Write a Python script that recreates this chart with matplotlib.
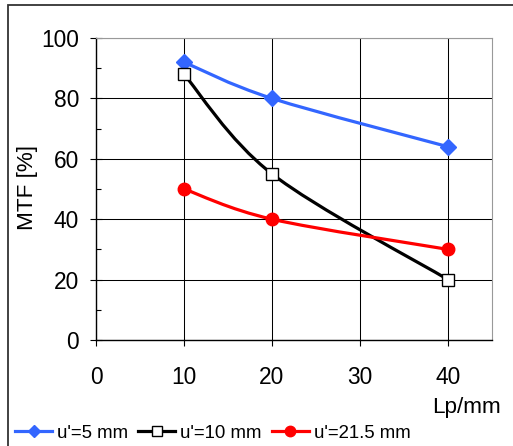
import numpy as np
import matplotlib
matplotlib.use('Agg')
import matplotlib.pyplot as plt
from matplotlib.path import Path
from matplotlib.patches import PathPatch, Rectangle
from matplotlib.lines import Line2D
from matplotlib.ticker import MultipleLocator

plt.rcParams['font.family'] = ['Liberation Sans', 'DejaVu Sans']

# data
lp = [10, 20, 40]
mtf_5 = [92, 80, 64]
mtf_10 = [88, 55, 20]
mtf_215 = [50, 40, 30]
labels = ["u'=5 mm", "u'=10 mm", "u'=21.5 mm"]


def smooth_path(xs, ys):
    """Excel-style smoothed line as cubic Bezier path (control points only)."""
    pts = np.column_stack([xs, ys]).astype(float)
    n = len(pts)
    verts = [pts[0]]
    codes = [Path.MOVETO]
    for i in range(n - 1):
        p_prev = pts[i - 1] if i > 0 else pts[i]
        p_next = pts[i + 2] if i + 2 < n else pts[i + 1]
        c1 = pts[i] + (pts[i + 1] - p_prev) / 6.0
        c2 = pts[i + 1] - (p_next - pts[i]) / 6.0
        verts += [c1, c2, pts[i + 1]]
        codes += [Path.CURVE4] * 3
    return Path(verts, codes)


fig = plt.figure(figsize=(5.13, 4.46), dpi=100)
ax = fig.add_axes([96 / 513, 1 - 340 / 446, 396 / 513, 302 / 446])

# (values, colour, marker style, legend marker size)
series = [
    (mtf_5, '#3366FF', dict(marker='D', markersize=7.8, markerfacecolor='#3366FF',
                            markeredgecolor='#3366FF'), 6.0),
    (mtf_10, 'black', dict(marker='s', markersize=9, markerfacecolor='white',
                           markeredgecolor='black', markeredgewidth=1.0), 7.0),
    (mtf_215, '#FF0000', dict(marker='o', markersize=9, markerfacecolor='#FF0000',
                              markeredgecolor='#FF0000'), 7.5),
]

handles = []
for k, (vals, col, mk, leg_ms) in enumerate(series):
    z = 3 + k
    ax.add_patch(PathPatch(smooth_path(lp, vals), facecolor='none', edgecolor=col,
                           linewidth=2.3, zorder=z, capstyle='round', joinstyle='round'))
    ax.plot(lp, vals, linestyle='none', zorder=z + 0.5, **mk)
    leg_mk = dict(mk, markersize=leg_ms)
    handles.append(Line2D([], [], color=col, linewidth=2.3, **leg_mk))

ax.set_xlim(0, 45)
ax.set_ylim(0, 100)
ax.xaxis.set_major_locator(MultipleLocator(10))
ax.yaxis.set_major_locator(MultipleLocator(20))
ax.yaxis.set_minor_locator(MultipleLocator(10))
ax.grid(True, which='major', color='black', linewidth=0.75)
ax.set_axisbelow(True)

for s in ['top', 'right']:
    ax.spines[s].set_color('#999999')
for s in ['left', 'bottom']:
    ax.spines[s].set_linewidth(1.0)

ax.tick_params(axis='y', which='major', direction='inout', length=8.6, width=0.8,
               pad=8, labelsize=16.4)
ax.tick_params(axis='y', which='minor', direction='in', length=3.5, width=0.8)
ax.tick_params(axis='x', which='major', direction='out', length=4.5, width=0.8,
               pad=14, labelsize=16.4)

fig.text(28 / 513, 1 - 188 / 446, 'MTF [%]', rotation=90, ha='center', va='center',
         fontsize=16.2)
fig.text(467 / 513, 1 - 408 / 446, 'Lp/mm', ha='center', va='center', fontsize=16.2)

fig.legend(handles, labels, loc='center left', bbox_to_anchor=(15 / 513, 1 - 433 / 446),
           ncol=3, frameon=False, fontsize=13.4, handlelength=2.0, handletextpad=0.25,
           columnspacing=0.55, borderpad=0, borderaxespad=0, numpoints=1)

# outer chart border
fig.patches.append(Rectangle((8 / 513, -0.2), 1.5, 1.2 - 5 / 446, transform=fig.transFigure,
                             facecolor='none', edgecolor='#333333', linewidth=1.3))

fig.savefig('out.png', dpi=100)
